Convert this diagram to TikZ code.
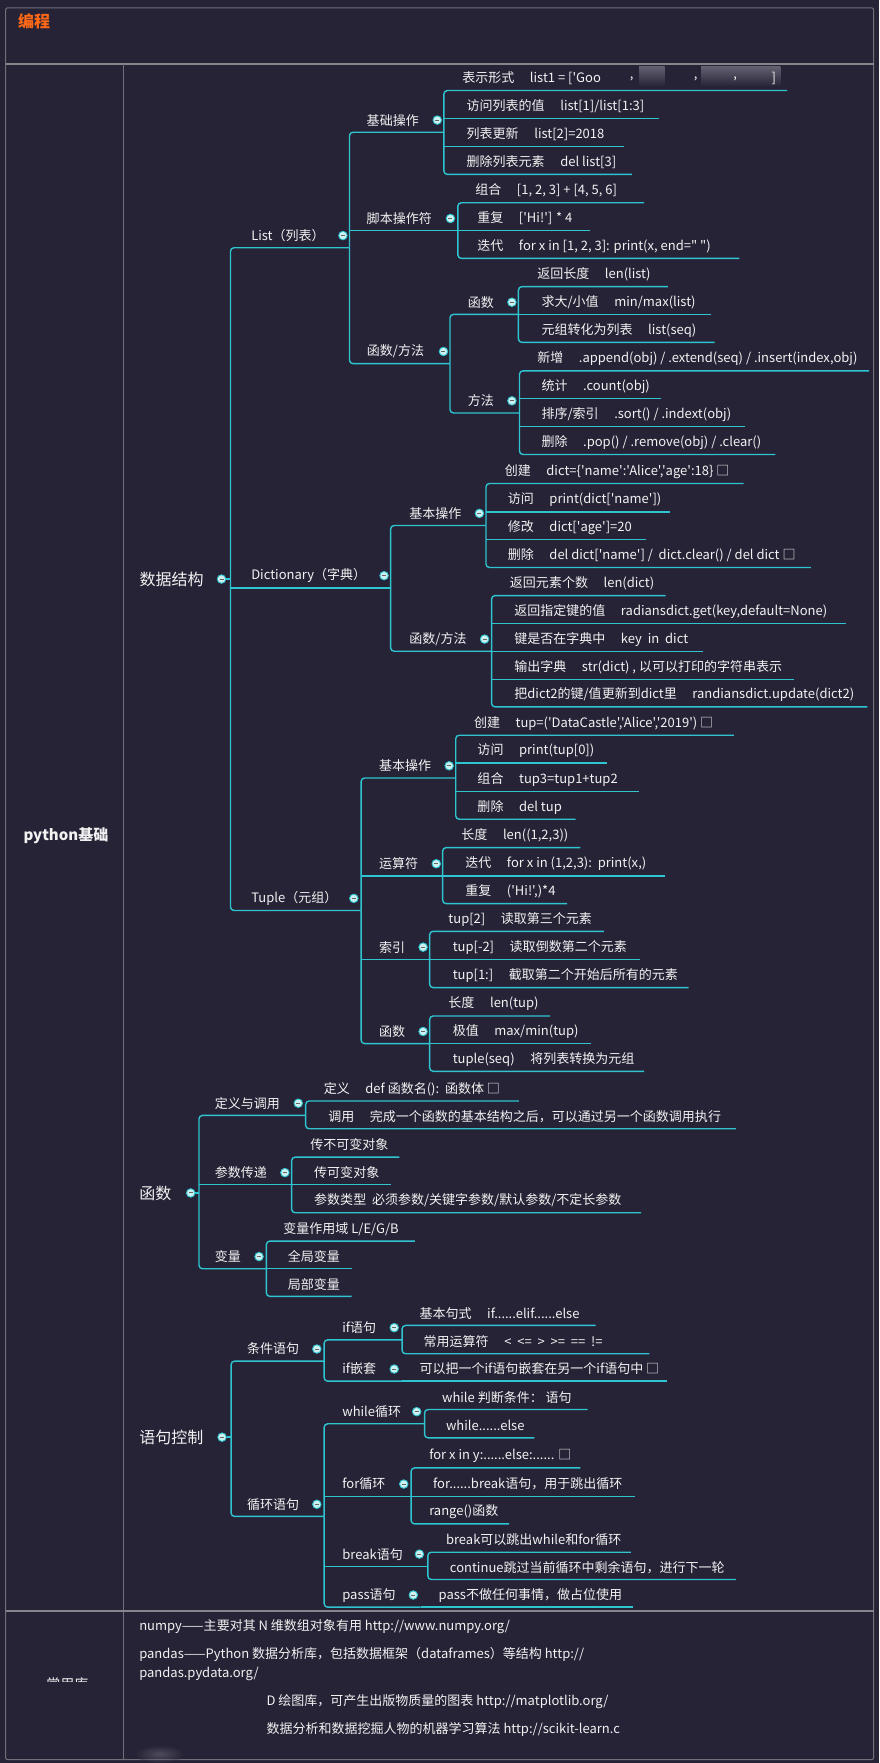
\documentclass[tikz,border=0pt]{standalone}
\usepackage{fontspec}
\setmainfont{Noto Sans CJK SC}
\newfontfamily\cjk{Noto Sans CJK SC}
\usetikzlibrary{calc}
\definecolor{bgc}{RGB}{38,35,54}
\definecolor{linec}{RGB}{46,196,208}
\definecolor{framec}{RGB}{112,112,122}
\definecolor{titlec}{RGB}{255,104,22}
\definecolor{txtc}{RGB}{242,242,242}
\definecolor{dotfill}{RGB}{205,240,240}
\definecolor{smudge}{RGB}{150,150,162}
\newcommand{\gp}{\hspace{1.2em}}
\newcommand{\Leaf}[5]{\node[leaflbl] (#1) at (#2,#3) {#5};\coordinate (#1e) at (#4,#3+10.8);}
\newcommand{\Branch}[6]{\node[midlbl] (#1) at (#2,#3) {#6};\node[colc] (#1c) at (#4,#3) {};\coordinate (#1j) at (#5,#3+10.8);}
\newcommand{\Conn}[2]{\draw[conn,rc] (#1) |- (#2);}
\newcommand{\Cmid}[2]{\draw[conn] (#1 |- #2) -- (#2);}
\begin{document}
\begin{tikzpicture}[x=1.124pt,y=-1.124pt,
 conn/.style={draw=linec,line width=1.4pt},
 rc/.style={rounded corners=3.5pt},
 leaflbl/.style={anchor=west,inner sep=0pt,text=txtc,font=\cjk\fontsize{13}{15}\selectfont},
 midlbl/.style={anchor=west,inner sep=0pt,text=txtc,font=\cjk\fontsize{13}{15}\selectfont},
 rootlbl/.style={anchor=west,inner sep=0pt,text=txtc,font=\cjk\fontsize{16}{18}\selectfont},
 botlbl/.style={anchor=west,inner sep=0pt,text=txtc,font=\cjk\fontsize{13}{15}\selectfont},
 colc/.style={circle,fill=dotfill,draw=linec,line width=0.9pt,minimum size=8.5pt,inner sep=0pt,
   path picture={\draw[black!60,line width=1pt] ([xshift=-2pt]path picture bounding box.center) -- ([xshift=2pt]path picture bounding box.center);}},
]
\useasboundingbox (0,0) rectangle (782,1568);
\fill[bgc] (0,0) rectangle (782,1568);
% frame
\draw[framec,line width=1pt,rounded corners=2pt] (5,7) rectangle (777,1565);
\draw[framec!85,line width=2pt] (5,57) -- (777,57);
\draw[framec,line width=0.8pt] (110,57) -- (110,1565);
\draw[framec!85,line width=2pt] (5,1433) -- (777,1433);
\node[anchor=west,inner sep=0pt,text=titlec,font=\cjk\bfseries\fontsize{16}{18}\selectfont] (title) at (16,19) {编程};
\node[inner sep=0pt,text=txtc,font=\cjk\bfseries\fontsize{15}{17}\selectfont] (pyb) at (58.6,743) {python基础};

% ===== 数据结构 =====
\node[rootlbl] (ds) at (124,515) {数据结构};
\node[colc] (dsc) at (197,515) {};
\coordinate (dsj) at (205,515);
\draw[conn] (dsc) -- (dsj);

\Branch{lst}{223.3}{209.5}{305}{310.8}{List（列表）}
\Branch{dic}{223.3}{512}{341.6}{347.4}{Dictionary（字典）}
\Branch{tup}{223.3}{799}{314.7}{321.2}{Tuple（元组）}
\Conn{dsj}{lstj}
\Cmid{dsj}{dicj}
\Conn{dsj}{tupj}

% List
\Branch{jc}{326}{106.8}{388.9}{394.8}{基础操作}
\Branch{jb}{326}{194.3}{400.6}{407.2}{脚本操作符}
\Branch{lfm}{326.2}{312.6}{394.4}{400.2}{函数/方法}
\Conn{lstj}{jcj}
\Cmid{lstj}{jbj}
\Conn{lstj}{lfmj}

\Leaf{a1}{411}{69.7}{700}{表示形式\gp list1 = ['Goo}
\Leaf{a2}{414.9}{94.7}{586}{访问列表的值\gp list[1]/list[1:3]}
\Leaf{a3}{414.9}{119.5}{555}{列表更新\gp list[2]=2018}
\Leaf{a4}{414.9}{144.3}{562}{删除列表元素\gp del list[3]}
\Conn{jcj}{a1e}
\Cmid{jcj}{a2e}
\Cmid{jcj}{a3e}
\Conn{jcj}{a4e}
\shade[top color=smudge,bottom color=bgc,opacity=0.55] (568.5,59) rectangle (591,77);
\shade[top color=smudge,bottom color=bgc,opacity=0.55] (623.5,59) rectangle (694,77);
\node[leaflbl] (a1k1) at (560,70) {,};
\node[leaflbl] (a1k2) at (617,70) {,};
\node[leaflbl] (a1k3) at (652,70) {,};
\node[leaflbl] (a1k4) at (686,70) {]};

\Leaf{b1}{422.6}{169.5}{572.8}{组合\gp [1, 2, 3] + [4, 5, 6]}
\Leaf{b2}{424.4}{194.3}{524.6}{重复\gp ['Hi!'] * 4}
\Leaf{b3}{424.4}{219}{657.5}{迭代\gp for x in [1, 2, 3]: print(x, end=" ")}
\Conn{jbj}{b1e}
\Cmid{jbj}{b2e}
\Conn{jbj}{b3e}

\Branch{lfn}{416}{268.8}{455.3}{461.1}{函数}
\Branch{lff}{416}{356.5}{455.3}{462}{方法}
\Conn{lfmj}{lfnj}
\Conn{lfmj}{lffj}

\Leaf{c1}{477.7}{244.1}{594}{返回长度\gp len(list)}
\Leaf{c2}{481.5}{268.8}{632.5}{求大/小值\gp min/max(list)}
\Leaf{c3}{481.5}{293.7}{635.6}{元组转化为列表\gp list(seq)}
\Conn{lfnj}{c1e}
\Cmid{lfnj}{c2e}
\Conn{lfnj}{c3e}

\Leaf{d1}{477.7}{319}{773}{新增\gp .append(obj) / .extend(seq) / .insert(index,obj)}
\Leaf{d2}{481.5}{343.7}{588.2}{统计\gp .count(obj)}
\Leaf{d3}{481.5}{368.7}{662.6}{排序/索引\gp .sort() / .indext(obj)}
\Leaf{d4}{481.5}{393.4}{689.5}{删除\gp .pop() / .remove(obj) / .clear()}
\Conn{lffj}{d1e}
\Cmid{lffj}{d2e}
\Cmid{lffj}{d3e}
\Conn{lffj}{d4e}

% Dictionary
\Branch{djb}{363.9}{456.6}{426.4}{432.2}{基本操作}
\Branch{dfm}{364}{568.4}{431}{437.2}{函数/方法}
\Conn{dicj}{djbj}
\Conn{dicj}{dfmj}

\Leaf{e1}{448.8}{419.2}{661.4}{创建\gp dict=\{'name':'Alice','age':18\} □}
\Leaf{e2}{451.5}{444.4}{595.9}{访问\gp print(dict['name'])}
\Leaf{e3}{451.5}{469}{574.7}{修改\gp dict['age']=20}
\Leaf{e4}{451.5}{493.9}{721.2}{删除\gp del dict['name'] /\ \ dict.clear() / del dict □}
\Conn{djbj}{e1e}
\Cmid{djbj}{e2e}
\Cmid{djbj}{e3e}
\Conn{djbj}{e4e}

\Leaf{f1}{453.4}{518.9}{592}{返回元素个数\gp len(dict)}
\Leaf{f2}{457.3}{543.8}{752.7}{返回指定键的值\gp radiansdict.get(key,default=None)}
\Leaf{f3}{457.3}{568.4}{625.6}{键是否在字典中\gp key\ \ in\ \ dict}
\Leaf{f4}{457.3}{593.6}{706.4}{输出字典\gp str(dict) , 以可以打印的字符串表示}
\Leaf{f5}{457.3}{617.9}{771.5}{把dict2的键/值更新到dict里\gp randiansdict.update(dict2)}
\Conn{dfmj}{f1e}
\Cmid{dfmj}{f2e}
\Cmid{dfmj}{f3e}
\Cmid{dfmj}{f4e}
\Conn{dfmj}{f5e}

% Tuple
\Branch{tjb}{337}{681.1}{399.5}{405.3}{基本操作}
\Branch{tys}{337}{768.2}{388}{393.7}{运算符}
\Branch{tsy}{337}{842.4}{376.3}{382.1}{索引}
\Branch{ths}{337}{917.4}{376.3}{382.1}{函数}
\Conn{tupj}{tjbj}
\Cmid{tupj}{tysj}
\Cmid{tupj}{tsyj}
\Conn{tupj}{thsj}

\Leaf{g1}{421.4}{643.1}{652.6}{创建\gp tup=('DataCastle','Alice','2019') □}
\Leaf{g2}{424.5}{667.7}{540}{访问\gp print(tup[0])}
\Leaf{g3}{424.5}{692.9}{568.2}{组合\gp tup3=tup1+tup2}
\Leaf{g4}{424.5}{717.8}{512}{删除\gp del tup}
\Conn{tjbj}{g1e}
\Cmid{tjbj}{g2e}
\Cmid{tjbj}{g3e}
\Conn{tjbj}{g4e}

\Leaf{h1}{410.2}{743}{516.2}{长度\gp len((1,2,3))}
\Leaf{h2}{413.7}{768.2}{591}{迭代\gp for x in (1,2,3):\ \ print(x,)}
\Leaf{h3}{413.7}{792.9}{504.5}{重复\gp ('Hi!',)*4}
\Conn{tysj}{h1e}
\Cmid{tysj}{h2e}
\Conn{tysj}{h3e}

\Leaf{i1}{398.7}{817.5}{537}{tup[2]\gp 读取第三个元素}
\Leaf{i2}{402.5}{842.4}{569}{tup[-2]\gp 读取倒数第二个元素}
\Leaf{i3}{402.5}{867.6}{612.5}{tup[1:]\gp 截取第二个开始后所有的元素}
\Conn{tsyj}{i1e}
\Cmid{tsyj}{i2e}
\Conn{tsyj}{i3e}

\Leaf{k1}{398.7}{892.8}{489.2}{长度\gp len(tup)}
\Leaf{k2}{402.5}{917.4}{525.8}{极值\gp max/min(tup)}
\Leaf{k3}{402.5}{942}{572.8}{tuple(seq)\gp 将列表转换为元组}
\Conn{thsj}{k1e}
\Cmid{thsj}{k2e}
\Conn{thsj}{k3e}

% ===== 函数 =====
\node[rootlbl] (fn) at (123.7,1061) {函数};
\node[colc] (fnc) at (169.6,1061) {};
\coordinate (fnj) at (177,1061);
\draw[conn] (fnc) -- (fnj);
\Branch{dy}{191}{981.2}{265.3}{271.8}{定义与调用}
\Branch{cs}{191}{1042.9}{253.4}{259.4}{参数传递}
\Branch{bl}{191}{1117.6}{230.4}{236.9}{变量}
\Conn{fnj}{dyj}
\Cmid{fnj}{csj}
\Conn{fnj}{blj}

\Leaf{m1}{287.8}{968.4}{461.4}{定义\gp def 函数名():\ \ 函数体 □}
\Leaf{m2}{291.8}{993.1}{654.4}{调用\gp 完成一个函数的基本结构之后，可以通过另一个函数调用执行}
\Conn{dyj}{m1e}
\Conn{dyj}{m2e}

\Leaf{n1}{275.8}{1018.3}{355.1}{传不可变对象}
\Leaf{n2}{279.3}{1042.9}{347.6}{传可变对象}
\Leaf{n3}{279.3}{1067.8}{570.1}{参数类型\ \ 必须参数/关键字参数/默认参数/不定长参数}
\Conn{csj}{n1e}
\Cmid{csj}{n2e}
\Conn{csj}{n3e}

\Leaf{p1}{251.9}{1093}{369}{变量作用域 L/E/G/B}
\Leaf{p2}{255.9}{1117.6}{312.7}{全局变量}
\Leaf{p3}{255.9}{1142.2}{312.7}{局部变量}
\Conn{blj}{p1e}
\Cmid{blj}{p2e}
\Conn{blj}{p3e}

% ===== 语句控制 =====
\node[rootlbl] (yj) at (123.7,1278.2) {语句控制};
\node[colc] (yjc) at (197.5,1278.2) {};
\coordinate (yjj) at (205.5,1278.2);
\draw[conn] (yjc) -- (yjj);
\Branch{tj}{219.5}{1199.8}{281.8}{288.3}{条件语句}
\Branch{xh}{219.5}{1337.9}{281.8}{288.3}{循环语句}
\Conn{yjj}{tjj}
\Conn{yjj}{xhj}

\Branch{ify}{304.3}{1180.8}{350.6}{357.6}{if语句}
\Branch{ifq}{304.3}{1217.6}{350.6}{357.6}{if嵌套}
\Conn{tjj}{ifyj}
\Conn{tjj}{ifqj}
\Leaf{q1}{373}{1168}{529.7}{基本句式\gp if......elif......else}
\Leaf{q2}{376.6}{1193.2}{577.6}{常用运算符\gp <\ \ <=\ \ >\ \ >=\ \ ==\ \ !=}
\Conn{ifyj}{q1e}
\Conn{ifyj}{q2e}
\Leaf{q3}{373}{1217.6}{593.5}{可以把一个if语句嵌套在另一个if语句中 □}
\draw[conn] (ifqj) -- (q3e);

\Branch{wh}{304.3}{1255.5}{370.6}{377.6}{while循环}
\Branch{fo}{304.3}{1319.9}{359.1}{365.6}{for循环}
\Branch{br}{304.3}{1382.2}{373}{380.5}{break语句}
\Branch{ps}{304.3}{1418.6}{367.6}{374}{pass语句}
\Conn{xhj}{whj}
\Cmid{xhj}{foj}
\Cmid{xhj}{brj}
\Conn{xhj}{psj}

\Leaf{r1}{393}{1242.8}{522.7}{while 判断条件：\ 语句}
\Leaf{r2}{396.5}{1268}{475.3}{while......else}
\Conn{whj}{r1e}
\Conn{whj}{r2e}

\Leaf{s1}{381.6}{1294.7}{516.2}{for x in y:......else:...... □}
\Leaf{s2}{385}{1319.9}{565.1}{for......break语句，用于跳出循环}
\Leaf{s3}{381.6}{1344.5}{452.9}{range()函数}
\Conn{foj}{s1e}
\Cmid{foj}{s2e}
\Conn{foj}{s3e}

\Leaf{t1}{396.5}{1369.7}{561.1}{break可以跳出while和for循环}
\Leaf{t2}{400}{1394}{654.4}{continue跳过当前循环中剩余语句，进行下一轮}
\Conn{brj}{t1e}
\Conn{brj}{t2e}

\Leaf{t3}{390}{1418.6}{562.6}{pass不做任何事情，做占位使用}
\draw[conn] (psj) -- (t3e);

% ===== bottom section =====
\node[botlbl] (u1) at (123.7,1446.6) {numpy——主要对其 N 维数组对象有用 http://www.numpy.org/};
\node[botlbl] (u2) at (123.7,1471.8) {pandas——Python 数据分析库，包括数据框架（dataframes）等结构 http://};
\node[botlbl] (u3) at (123.7,1488.6) {pandas.pydata.org/};
\node[botlbl] (u4) at (236.9,1513.3) {D 绘图库，可产生出版物质量的图表 http://matplotlib.org/};
\node[botlbl] (u5) at (236.9,1538.5) {数据分析和数据挖掘人物的机器学习算法 http://scikit-learn.c};
\begin{scope}
\clip (30,1486) rectangle (95,1495.5);
\node[inner sep=0pt,text=txtc,font=\cjk\fontsize{14}{16}\selectfont] (lib) at (60,1498) {常用库};
\end{scope}
\shade[inner color=smudge,outer color=bgc,opacity=0.35] (142,1560) ellipse (22 and 8);
\end{tikzpicture}
\end{document}
